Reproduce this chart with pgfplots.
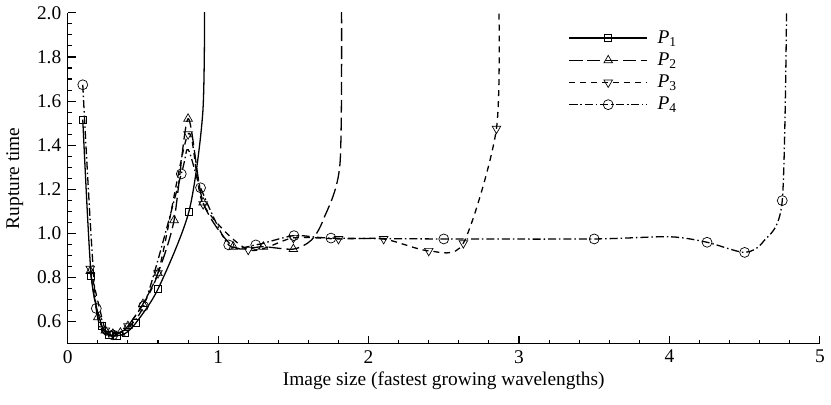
\documentclass[border=0pt]{standalone}
\usepackage{fontspec}
\setmainfont{Liberation Serif}
\usepackage{pgfplots}
\pgfplotsset{compat=1.18}
\begin{document}
\fontsize{19}{22}\selectfont
\begin{tikzpicture}
\begin{axis}[
  scale only axis, width=757pt, height=333pt,
  xmin=0, xmax=5, ymin=0.5, ymax=2.0,
  axis lines*=left,
  axis line style={line width=1.3pt},
  tick style={line width=1.1pt, black},
  tick align=inside,
  major tick length=8pt, minor tick length=4pt,
  xtick={0,1,2,3,4,5}, minor x tick num=4,
  ytick={0.6,0.8,1.0,1.2,1.4,1.6,1.8,2.0}, minor y tick num=3,
  yticklabel style={/pgf/number format/.cd, fixed, fixed zerofill, precision=1},
  /pgf/number format/assume math mode=true,
  ticklabel style={font=\fontsize{19.5}{22}\selectfont},
  label style={font=\fontsize{19.5}{22}\selectfont},
  xlabel={Image size (fastest growing wavelengths)},
  ylabel={Rupture time},
  xlabel style={yshift=4pt},
  ylabel style={yshift=1pt},
  legend style={at={(axis cs:3.31,1.935)}, anchor=north west, draw=none, fill=none,
    font=\fontsize{19.5}{22}\selectfont, row sep=4.7pt, nodes={inner sep=1pt}},
  legend cell align=left,
  legend image code/.code={\draw[mark indices={2}] plot coordinates {(0pt,0pt) (39pt,0pt) (78pt,0pt)};},
  every axis plot/.append style={line width=1.3pt, black},
]
% P1
\addplot[smooth, tension=0.45, mark=square, mark size=3.5pt, mark options={solid, line width=0.7pt, fill=white},
  mark indices={1,2,3,4,5,6,7,8,9}]
  coordinates {(0.1,1.516) (0.156,0.808) (0.227,0.58) (0.273,0.542) (0.326,0.537) (0.383,0.547) (0.454,0.595) (0.6,0.748) (0.806,1.10) (0.898,1.55) (0.91,2.1)};
\addlegendentry{\hspace{9pt}\textit{P}\textsubscript{1}}
% P2
\addplot[smooth, tension=0.45, dash pattern=on 13pt off 5pt, mark=triangle, mark size=5pt, mark options={solid, line width=0.7pt, fill=white},
  mark indices={1,2,3,4,5,6,7,8,9,10,11,12,13,14}]
  coordinates {(0.15,0.83) (0.2,0.62) (0.25,0.56) (0.3,0.545) (0.35,0.55) (0.4,0.58) (0.5,0.68) (0.6,0.82) (0.707,1.06) (0.8,1.52) (0.9,1.14) (1.1,0.94) (1.3,0.94) (1.5,0.929) (1.62,0.97) (1.7,1.064) (1.81,1.317) (1.82,2.1)};
\addlegendentry{\hspace{9pt}\textit{P}\textsubscript{2}}
% P3
\addplot[smooth, tension=0.45, dash pattern=on 6pt off 5pt, mark=triangle, mark size=5pt, mark options={solid, rotate=180, line width=0.7pt, fill=white},
  mark indices={1,2,3,4,5,6,7,8,9,10,11,12,13,14}]
  coordinates {(0.15,0.84) (0.25,0.56) (0.3,0.545) (0.4,0.58) (0.6,0.82) (0.8,1.45) (0.9,1.133) (1.2,0.926) (1.5,0.98) (1.8,0.975) (2.1,0.975) (2.4,0.921) (2.63,0.956) (2.85,1.475) (2.865,2.1)};
\addlegendentry{\hspace{9pt}\textit{P}\textsubscript{3}}
% P4
\addplot[smooth, tension=0.45, dash pattern=on 8pt off 3pt on 1.5pt off 3pt, mark=o, mark size=5pt, mark options={solid, line width=0.7pt, fill=white},
  mark indices={1,2,3,4,5,7,8,9,10,11,12,13,15,16,18}]
  coordinates {(0.1,1.674) (0.19,0.66) (0.3,0.54) (0.504,0.67) (0.755,1.27) (0.8,1.38) (0.883,1.207) (1.07,0.948) (1.25,0.948) (1.504,0.99) (1.75,0.979) (2.5,0.975) (3.5,0.975) (4.0,0.985) (4.25,0.96) (4.5,0.914) (4.625,0.964) (4.75,1.149) (4.78,2.1)};
\addlegendentry{\hspace{9pt}\textit{P}\textsubscript{4}}
\coordinate (O) at (rel axis cs:0,0);
\end{axis}
\path ([shift={(-68pt,-61pt)}]O) rectangle ++(831pt,402pt);
\end{tikzpicture}
\end{document}
